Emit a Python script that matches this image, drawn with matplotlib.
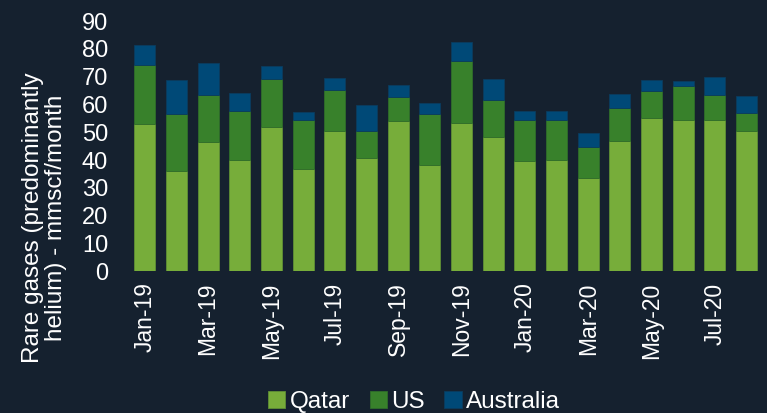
import numpy as np
import matplotlib
matplotlib.use("Agg")
import matplotlib.pyplot as plt

BG_COLOR = "#15212f"
TEXT_COLOR = "#ffffff"

months = ["Jan-19", "Feb-19", "Mar-19", "Apr-19", "May-19", "Jun-19", "Jul-19",
          "Aug-19", "Sep-19", "Oct-19", "Nov-19", "Dec-19", "Jan-20", "Feb-20",
          "Mar-20", "Apr-20", "May-20", "Jun-20", "Jul-20", "Aug-20"]
qatar = [52.9, 36.2, 46.4, 40.1, 51.8, 36.9, 50.6, 40.7, 53.9, 38.1,
         53.5, 48.2, 39.8, 39.9, 33.4, 46.7, 55.0, 54.5, 54.6, 50.6]
us = [21.4, 20.5, 17.1, 17.7, 17.5, 17.6, 14.6, 9.9, 8.9, 18.6,
      22.2, 13.3, 14.5, 14.4, 11.2, 12.0, 10.0, 12.2, 8.8, 6.5]
australia = [7.2, 12.2, 11.4, 6.3, 4.7, 2.9, 4.3, 9.1, 4.3, 3.8,
             6.6, 7.8, 3.4, 3.5, 5.3, 5.1, 3.8, 1.6, 6.4, 6.1]
y_ticks = list(range(0, 100, 10))

plt.rcParams["font.family"] = ["Liberation Sans", "DejaVu Sans"]

fig = plt.figure(figsize=(7.67, 4.13), dpi=100)
fig.patch.set_facecolor(BG_COLOR)
ax = fig.add_axes([0.168, 0.343, 0.826, 0.606])
ax.set_facecolor(BG_COLOR)

x = np.arange(len(months))
q = np.array(qatar)
u = np.array(us)
a = np.array(australia)
w = 0.66
ax.bar(x, q, w, color="#77ad3a", edgecolor="#5f8f35", linewidth=0.6, label="Qatar")
ax.bar(x, u, w, bottom=q, color="#38812b", edgecolor="#2f6d2a", linewidth=0.6, label="US")
ax.bar(x, a, w, bottom=q + u, color="#004977", edgecolor="#0a3c5e", linewidth=0.6,
       label="Australia")

ax.set_xlim(-0.5, len(months) - 0.5)
ax.set_ylim(0, 90)
ax.set_yticks(y_ticks)
ax.set_xticks(x[::2])
ax.set_xticklabels(months[::2], rotation=90)
ax.tick_params(axis="y", length=0, labelsize=17, colors=TEXT_COLOR, pad=15)
ax.tick_params(axis="x", length=0, labelsize=16.5, colors=TEXT_COLOR, pad=8)
for spine in ax.spines.values():
    spine.set_visible(False)

ax.set_ylabel("Rare gases (predominantly\nhelium) - mmscf/month", fontsize=17.5,
              color=TEXT_COLOR, linespacing=1.1)
ax.yaxis.set_label_coords(-0.133, 0.214, transform=ax.transAxes)
ax.yaxis.label.set_va("center")

leg = fig.legend(loc="center", bbox_to_anchor=(0.54, 0.027), ncol=3, frameon=False,
                 fontsize=17.5, handlelength=0.7, handleheight=0.7, handletextpad=0.2,
                 columnspacing=0.8, labelcolor=TEXT_COLOR)

plt.savefig("out.png", dpi=100, facecolor=BG_COLOR)
plt.close(fig)
